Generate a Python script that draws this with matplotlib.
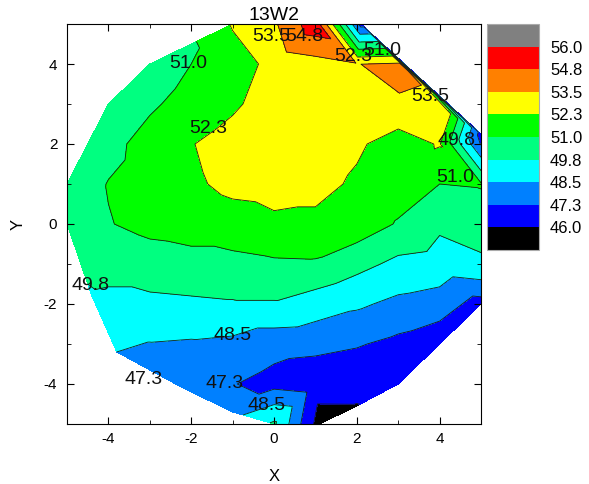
"""Wafer map 13W2: filled contour of the measured values on the X/Y grid."""
import matplotlib
matplotlib.use("Agg")
import matplotlib.pyplot as plt
import matplotlib.tri as mtri
from matplotlib.ticker import MultipleLocator

plt.rcParams['font.family'] = ['Liberation Sans', 'DejaVu Sans']
plt.rcParams['axes.unicode_minus'] = False

# contour levels and the band colours (under ... over)
levels = [46.0, 47.3, 48.5, 49.8, 51.0, 52.3, 53.5, 54.8, 56.0]
band_colors = ['#000000', '#0000ff', '#0080ff', '#00ffff', '#00ff80',
               '#00ff00', '#ffff00', '#ff8000', '#ff0000', '#808080']

sample_x = [-1, 0, 1, 2.1, -2,
            -3, -2, -1, 0, 1, 2, 3.1,
            -4, -3, -2, -1, 0, 1, 2, 3, 4.2, 5,
            -4, -3, -2, -1, 0, 1, 2, 3, 4, 5,
            -5, -4, -3, -2, -1, 0, 1, 2, 3, 4, 5,
            -5, -4, -3, -2, -1, 0, 1, 2, 3, 4, 5,
            -4, -3, -2, -1, 0, 1, 2, 3, 4, 5, -4.4,
            -4, -3, -2, -1, 0, 1, 2, 3, 4, 5, -3.8,
            -3, -2, -1, 0, 1, 2, 3, 4,
            -2.2, -1, 0, 1, 2, 3,
            2, 1.1, 0, -1]
sample_y = [5, 5, 5, 5, 4.5,
            4, 4, 4, 4, 4, 4, 3.95,
            3, 3, 3, 3, 3, 3, 3, 3, 2.8, 2.25,
            2, 2, 2, 2, 2, 2, 2, 2, 2, 2,
            1, 1, 1, 1, 1, 1, 1, 1, 1, 1, 1,
            0, 0, 0, 0, 0, 0, 0, 0, 0, 0, 0,
            -1, -1, -1, -1, -1, -1, -1, -1, -1, -1, -1.8,
            -2, -2, -2, -2, -2, -2, -2, -2, -2, -2, -3.2,
            -3, -3, -3, -3, -3, -3, -3, -3,
            -4.1, -4, -4, -4, -4, -4,
            -4.55, -5, -5, -4.7]
sample_z = [52.4, 53.3, 55.6, 46.8, 50.8,
            50.2, 51.0, 51.8, 52.6, 53.0, 53.45, 54.0,
            50.0, 50.8, 51.5, 52.1, 52.9, 53.1, 53.2, 53.3, 52.8, 46.8,
            50.6, 51.5, 52.25, 52.8, 53.0, 53.0, 52.5, 51.7, 52.4, 47.2,
            50.2, 51.05, 51.6, 52.1, 52.6, 52.7, 52.7, 52.1, 51.6, 51.0, 51.1,
            50.3, 50.95, 51.3, 51.5, 51.8, 52.1, 52.0, 51.7, 50.9, 50.0, 50.3,
            50.2, 50.5, 50.6, 50.6, 50.8, 50.85, 50.2, 49.5, 49.3, 49.6, 49.7,
            49.5, 49.5, 49.6, 49.7, 49.7, 49.2, 48.7, 48.2, 47.9, 46.8, 48.5,
            48.45, 48.35, 48.2, 47.7, 47.6, 47.4, 47.0, 46.5,
            47.6, 47.35, 46.9, 46.6, 46.4, 46.6,
            45.95, 45.4, 50.0, 48.0]

# contour labels as they sit on the original map
label_spots = [(-0.06, 4.68, 53.5), (0.74, 4.68, 54.8), (-2.08, 4.02, 51.0),
               (1.92, 4.2, 52.3), (2.62, 4.33, 51.0), (3.78, 3.2, 53.5),
               (-1.6, 2.4, 52.3), (4.4, 2.08, 49.8), (4.37, 1.15, 51.0),
               (-4.44, -1.55, 49.8), (-0.99, -2.8, 48.5), (-3.15, -3.9, 47.3),
               (-1.2, -4.0, 47.3), (-0.18, -4.55, 48.5)]

fig = plt.figure(figsize=(5.89, 4.84), dpi=100)
ax = fig.add_axes([0.1138, 0.124, 0.7029, 0.8264])

tri = mtri.Triangulation(sample_x, sample_y)
cf = ax.tricontourf(tri, sample_z, levels=levels, colors=band_colors, extend='both')
ax.tricontour(tri, sample_z, levels=levels, colors='#1a1a1a', linewidths=0.6)

for x, y, lv in label_spots:
    ax.text(x, y, f"{lv:.1f}", ha='center', va='center', fontsize=14,
            color='#111111', zorder=5)

ax.set_xlim(-5, 5)
ax.set_ylim(-5, 5)
ax.xaxis.set_major_locator(MultipleLocator(2))
ax.xaxis.set_minor_locator(MultipleLocator(1))
ax.yaxis.set_major_locator(MultipleLocator(2))
ax.yaxis.set_minor_locator(MultipleLocator(1))
ax.tick_params(which='both', direction='in', top=True, right=True, labelsize=11)
ax.tick_params(which='major', length=5)
ax.tick_params(which='minor', length=3)
ax.tick_params(axis='x', which='major', pad=6)
ax.tick_params(axis='y', which='major', pad=7)
ax.set_xlabel('X', fontsize=12, labelpad=16)
ax.set_ylabel('Y', fontsize=12, labelpad=13)
ax.set_title('13W2', fontsize=14, pad=0)

cax = fig.add_axes([0.8268, 0.4835, 0.0883, 0.4669])
cb = fig.colorbar(cf, cax=cax, extendrect=True, extendfrac=0.125, ticks=levels)
cb.ax.set_yticklabels([f"{v:.1f}" for v in levels])
cb.ax.tick_params(length=0, labelsize=12, pad=8)
cb.outline.set_edgecolor('#aaaaaa')

fig.savefig("out.png", dpi=100)
